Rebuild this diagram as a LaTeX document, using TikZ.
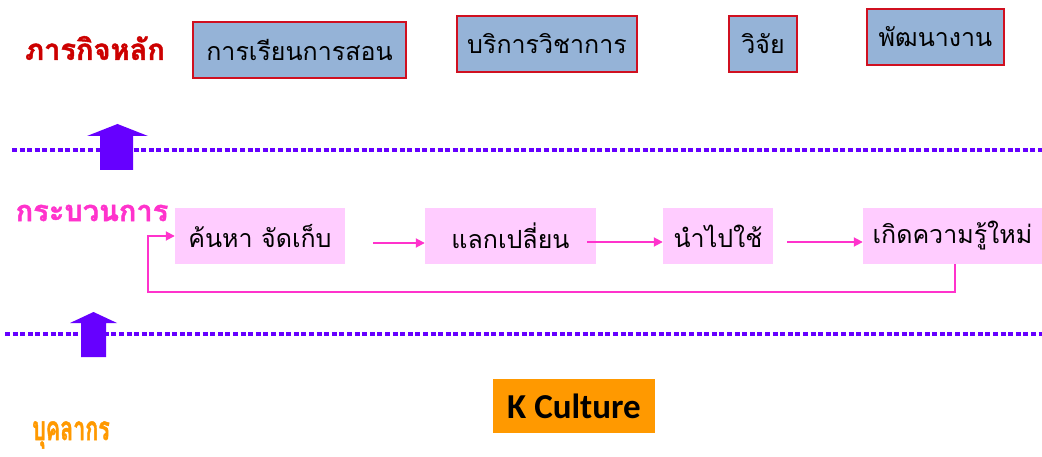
\documentclass[tikz,border=0pt]{standalone}
\usepackage{fontspec}
\setmainfont{Liberation Sans}
\newfontfamily\thai[Script=Thai]{Loma}
\newfontfamily\thaiheavy[Script=Thai,FakeBold=1.5]{Loma Bold}
\newfontfamily\kcal{Carlito}
\usetikzlibrary{arrows.meta}
\definecolor{boxblue}{HTML}{95B3D7}
\definecolor{boxred}{HTML}{D01020}
\definecolor{dotpurple}{HTML}{6600FF}
\definecolor{procpink}{HTML}{FFCCFF}
\definecolor{arrpink}{HTML}{FF33CC}
\definecolor{kor}{HTML}{FF9900}
\definecolor{titred}{HTML}{CC0000}
\tikzset{
  mission/.style={draw=boxred, line width=1.6pt, fill=boxblue, minimum height=56pt, inner sep=0pt, font=\thai\fontsize{25}{28}\selectfont, text=black},
  proc/.style={fill=procpink, minimum height=56pt, inner sep=0pt, font=\thai\fontsize{25}{28}\selectfont, text=black},
  parrow/.style={draw=arrpink, line width=1.8pt, -{Triangle[length=9pt,width=9pt]}},
  dotline/.style={draw=dotpurple, line width=4.5pt, dash pattern=on 5pt off 2.6pt},
  bigarrow/.style={fill=dotpurple},
  sidelabel/.style={font=\thaiheavy\fontsize{29}{32}\selectfont, anchor=center}
}
\begin{document}
\begin{tikzpicture}[x=1pt,y=-1pt]
\useasboundingbox (0,0) rectangle (1042,457);
% main missions
\node[sidelabel, text=titred] (mlabel) at (95,48) {ภารกิจหลัก};
\node[mission, minimum width=213pt] (m1) at (299.5,50) {การเรียนการสอน};
\node[mission, minimum width=180pt] (m2) at (547,44) {บริการวิชาการ};
\node[mission, minimum width=68pt] (m3) at (763,44) {วิจัย};
\node[mission, minimum width=137pt] (m4) at (935.5,37) {พัฒนางาน};
% dotted line 1 and arrow
\draw[dotline] (12,150) -- (1042,150);
\fill[bigarrow] (100,170) -- (100,136) -- (87,136) -- (117.5,124) -- (148,136) -- (133,136) -- (133,170) -- cycle;
% process row
\node[sidelabel, text=arrpink] (plabel) at (92,213) {กระบวนการ};
\node[proc, minimum width=170pt] (p1) at (260,236) {ค้นหา จัดเก็บ};
\node[proc, minimum width=171pt] (p2) at (510.5,236) {แลกเปลี่ยน};
\node[proc, minimum width=110pt] (p3) at (718,236) {นำไปใช้};
\node[proc, minimum width=179pt] (p4) at (952.5,236) {เกิดความรู้ใหม่};
\coordinate (a1s) at (373,243);
\coordinate (a2s) at (587,242);
\coordinate (a3s) at (787,242);
\draw[parrow] (a1s) -- (a1s -| p2.west);
\draw[parrow] (a2s) -- (a2s -| p3.west);
\draw[parrow] (a3s) -- (a3s -| p4.west);
\coordinate (fb1) at (955,292);
\coordinate (fb2) at (148,292);
\coordinate (fb3) at (148,236);
\draw[parrow] (p4.south -| fb1) -- (fb1) -- (fb2) -- (fb3) -- (p1.west |- fb3);
% dotted line 2 and arrow
\draw[dotline] (5,334) -- (1042,334);
\fill[bigarrow] (81,357) -- (81,323) -- (70,323) -- (93.5,312) -- (117,323) -- (106,323) -- (106,357) -- cycle;
% K culture
\node[fill=kor, minimum width=162pt, minimum height=54pt, inner sep=0pt, font=\kcal\bfseries\fontsize{35}{38}\selectfont] (kc) at (574,406) {K Culture};
\node[sidelabel, text=kor] (blabel) at (71,435) {\scalebox{0.74}[1.15]{บุคลากร}};
\end{tikzpicture}
\end{document}
